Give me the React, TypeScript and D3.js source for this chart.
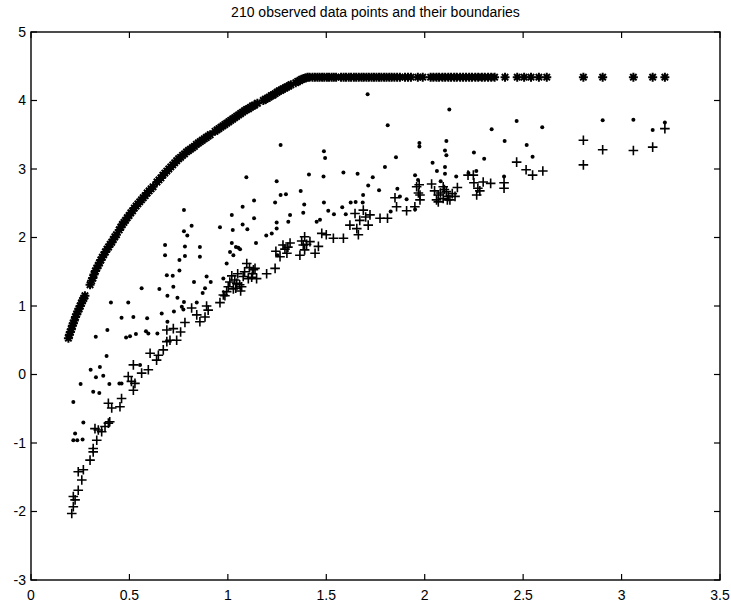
import * as d3 from "d3";

// upper boundary (asterisks)
const upperBound: [number, number][] = [
  [0.19, 0.53], [0.195, 0.58], [0.2, 0.62], [0.205, 0.66], [0.21, 0.71], [0.215, 0.75],
  [0.22, 0.79], [0.226, 0.84], [0.232, 0.88], [0.238, 0.92], [0.244, 0.96], [0.25, 1.0],
  [0.256, 1.04], [0.262, 1.08], [0.268, 1.11], [0.274, 1.15],
  [0.3, 1.31],
  [0.308, 1.37], [0.314, 1.41], [0.32, 1.46], [0.327, 1.51], [0.334, 1.55], [0.341, 1.59],
  [0.348, 1.63], [0.355, 1.67], [0.362, 1.71], [0.37, 1.75], [0.378, 1.79], [0.386, 1.83],
  [0.394, 1.86], [0.402, 1.9], [0.41, 1.93], [0.418, 1.97], [0.426, 2.01], [0.434, 2.04],
  [0.448, 2.11], [0.456, 2.15], [0.464, 2.19], [0.472, 2.22], [0.48, 2.25], [0.489, 2.29],
  [0.498, 2.32], [0.507, 2.36], [0.516, 2.39], [0.525, 2.43], [0.534, 2.46], [0.543, 2.49],
  [0.552, 2.52], [0.561, 2.55], [0.57, 2.58], [0.58, 2.61], [0.59, 2.65], [0.6, 2.68],
  [0.61, 2.71], [0.62, 2.74],
  [0.64, 2.81], [0.65, 2.84], [0.66, 2.87], [0.67, 2.91], [0.68, 2.94], [0.69, 2.97],
  [0.7, 3.0], [0.71, 3.03], [0.72, 3.06], [0.73, 3.09], [0.74, 3.12], [0.75, 3.15],
  [0.76, 3.17], [0.77, 3.2], [0.78, 3.22], [0.79, 3.25], [0.8, 3.27], [0.81, 3.29],
  [0.82, 3.31], [0.83, 3.33], [0.84, 3.36], [0.85, 3.38], [0.86, 3.4], [0.87, 3.42],
  [0.88, 3.44], [0.89, 3.46], [0.9, 3.48], [0.91, 3.5],
  [0.935, 3.55], [0.945, 3.57], [0.955, 3.59], [0.965, 3.61], [0.975, 3.63], [0.985, 3.65],
  [0.995, 3.67], [1.005, 3.69], [1.015, 3.71], [1.025, 3.73], [1.035, 3.75], [1.045, 3.77],
  [1.055, 3.79], [1.065, 3.81], [1.075, 3.83], [1.085, 3.85], [1.095, 3.87], [1.105, 3.88],
  [1.115, 3.9], [1.125, 3.92], [1.135, 3.93], [1.15, 3.96],
  [1.18, 4.0], [1.19, 4.02], [1.2, 4.03], [1.21, 4.05], [1.22, 4.07], [1.23, 4.08],
  [1.24, 4.1], [1.25, 4.12], [1.26, 4.14], [1.27, 4.15], [1.28, 4.17], [1.29, 4.18],
  [1.3, 4.2], [1.31, 4.21], [1.32, 4.23],
  [1.345, 4.26], [1.355, 4.28], [1.365, 4.29], [1.375, 4.31], [1.385, 4.32], [1.395, 4.33],
  [1.405, 4.34], [1.415, 4.34],
  [1.43, 4.34], [1.442, 4.34], [1.455, 4.34], [1.466, 4.34], [1.479, 4.34], [1.49, 4.34],
  [1.503, 4.34], [1.514, 4.34], [1.527, 4.34], [1.538, 4.34], [1.55, 4.34],
  [1.575, 4.34], [1.588, 4.34], [1.6, 4.34], [1.614, 4.34], [1.626, 4.34], [1.64, 4.34],
  [1.652, 4.34], [1.665, 4.34], [1.679, 4.34], [1.69, 4.34], [1.704, 4.34], [1.716, 4.34],
  [1.73, 4.34], [1.742, 4.34], [1.755, 4.34], [1.768, 4.34], [1.78, 4.34], [1.794, 4.34],
  [1.806, 4.34], [1.82, 4.34], [1.832, 4.34], [1.846, 4.34], [1.86, 4.34], [1.874, 4.34],
  [1.9, 4.34], [1.915, 4.34], [1.93, 4.34], [1.965, 4.34], [1.99, 4.34],
  [2.03, 4.34], [2.044, 4.34], [2.06, 4.34], [2.073, 4.34], [2.09, 4.34], [2.104, 4.34],
  [2.12, 4.34], [2.134, 4.34], [2.15, 4.34], [2.163, 4.34], [2.18, 4.34], [2.195, 4.34],
  [2.21, 4.34], [2.226, 4.34], [2.24, 4.34], [2.257, 4.34], [2.272, 4.34], [2.29, 4.34],
  [2.305, 4.34], [2.322, 4.34], [2.338, 4.34], [2.355, 4.34],
  [2.408, 4.34],
  [2.47, 4.34], [2.505, 4.34], [2.54, 4.34], [2.58, 4.34], [2.62, 4.34],
  [2.806, 4.34], [2.904, 4.34], [3.06, 4.34], [3.158, 4.34], [3.22, 4.34],
];

// observed data (dots)
const observed: [number, number][] = [
  [0.215, -0.4], [0.215, -0.96], [0.224, -0.86], [0.235, -0.96], [0.252, -0.14], [0.262, -0.95],
  [0.266, -0.7], [0.303, 0.07], [0.316, -0.25], [0.329, 0.55], [0.33, -0.04], [0.347, -0.27],
  [0.35, 0.11], [0.367, -0.02], [0.384, 0.27], [0.388, 0.65], [0.398, -0.14], [0.406, 1.05],
  [0.449, -0.13], [0.46, -0.13], [0.46, 0.83], [0.483, 0.54], [0.494, 1.05], [0.503, 0.56],
  [0.52, 0.84], [0.533, 0.59], [0.554, 0.14], [0.562, 1.26], [0.584, 0.63], [0.59, 0.82],
  [0.596, 0.6], [0.642, 0.6], [0.652, 1.25], [0.664, 0.89], [0.681, 1.89], [0.681, 1.74],
  [0.69, 1.45], [0.693, 0.77], [0.693, 1.15], [0.72, 1.44], [0.723, 1.28], [0.726, 0.92],
  [0.744, 1.12], [0.754, 1.52], [0.754, 1.67], [0.766, 0.99], [0.774, 0.95], [0.777, 1.06],
  [0.777, 2.4], [0.777, 2.09], [0.782, 1.87], [0.782, 1.73], [0.794, 2.03], [0.816, 2.17],
  [0.828, 1.35], [0.842, 1.05], [0.858, 1.86], [0.858, 1.72], [0.872, 1.19], [0.884, 1.26],
  [0.892, 1.43], [0.913, 1.35], [0.96, 2.15], [0.977, 1.4], [0.994, 1.62], [1.011, 1.79],
  [1.02, 2.33], [1.02, 1.92], [1.025, 2.11], [1.028, 1.74], [1.041, 1.86], [1.053, 1.85],
  [1.062, 1.83], [1.075, 2.45], [1.075, 2.19], [1.094, 2.88], [1.099, 2.12], [1.133, 2.54],
  [1.133, 2.28], [1.143, 1.92], [1.195, 2.03], [1.223, 2.06], [1.24, 2.51], [1.248, 2.82],
  [1.248, 2.22], [1.248, 2.13], [1.252, 1.74], [1.268, 3.35], [1.268, 2.62], [1.295, 2.63],
  [1.307, 2.23], [1.316, 2.33], [1.37, 2.68], [1.383, 2.36], [1.388, 2.48], [1.412, 2.92],
  [1.451, 2.23], [1.468, 2.26], [1.486, 2.89], [1.488, 3.26], [1.488, 2.51], [1.494, 3.16],
  [1.51, 2.39], [1.539, 2.34], [1.581, 2.44], [1.587, 2.95], [1.599, 2.34], [1.624, 2.51],
  [1.649, 2.52], [1.659, 2.93], [1.685, 2.51], [1.687, 2.62], [1.71, 4.09], [1.713, 2.76],
  [1.736, 2.88], [1.768, 2.69], [1.798, 3.03], [1.812, 3.64], [1.827, 2.38], [1.854, 3.17],
  [1.861, 2.71], [1.874, 2.6], [1.908, 2.56], [1.951, 2.91], [1.951, 2.41], [1.966, 2.84],
  [1.973, 3.38], [1.973, 3.33], [2.04, 3.09], [2.062, 2.97], [2.081, 2.82], [2.103, 3.27],
  [2.103, 3.03], [2.103, 2.93], [2.11, 3.41], [2.11, 3.2], [2.125, 3.87], [2.16, 2.89],
  [2.222, 2.94], [2.25, 3.24], [2.262, 2.97], [2.302, 3.15], [2.34, 3.58], [2.403, 2.89],
  [2.406, 3.41], [2.467, 3.7], [2.518, 3.35], [2.548, 3.18], [2.597, 3.61], [2.904, 3.71],
  [3.06, 3.72], [3.158, 3.57], [3.22, 3.68],
];

// lower boundary (plus signs)
const lowerBound: [number, number][] = [
  [0.207, -2.03], [0.215, -1.93], [0.215, -1.78], [0.224, -1.83], [0.24, -1.69], [0.24, -1.42],
  [0.258, -1.54], [0.266, -1.39], [0.3, -1.25], [0.316, -1.13], [0.316, -1.08], [0.325, -0.79],
  [0.334, -0.96], [0.342, -0.81], [0.359, -0.835], [0.376, -0.76], [0.393, -0.71], [0.393, -0.42],
  [0.4, -0.69], [0.41, -0.49], [0.452, -0.47], [0.46, -0.35], [0.494, -0.03], [0.51, -0.1],
  [0.52, -0.23], [0.528, -0.13], [0.52, 0.14], [0.562, 0.02], [0.596, 0.07], [0.605, 0.31],
  [0.638, 0.21], [0.647, 0.28], [0.672, 0.36], [0.69, 0.48], [0.69, 0.65], [0.706, 0.5],
  [0.723, 0.67], [0.74, 0.5], [0.76, 0.62], [0.782, 0.76], [0.816, 0.97], [0.842, 0.87],
  [0.858, 0.77], [0.884, 0.84], [0.892, 1.0], [0.9, 0.94], [0.96, 1.05], [0.977, 1.16],
  [0.985, 1.15], [0.994, 1.21], [1.002, 1.28], [1.01, 1.35], [1.02, 1.44], [1.028, 1.25],
  [1.035, 1.38], [1.04, 1.26], [1.045, 1.33], [1.05, 1.47], [1.06, 1.31], [1.065, 1.22],
  [1.07, 1.28], [1.078, 1.43], [1.085, 1.5], [1.096, 1.62], [1.104, 1.4], [1.11, 1.56],
  [1.121, 1.42], [1.125, 1.47], [1.13, 1.53], [1.138, 1.55], [1.146, 1.4], [1.197, 1.47],
  [1.24, 1.55], [1.244, 1.8], [1.265, 1.72], [1.28, 1.89], [1.29, 1.83], [1.3, 1.77],
  [1.305, 1.86], [1.316, 1.92], [1.366, 1.74], [1.375, 1.95], [1.383, 1.89], [1.39, 1.82],
  [1.39, 2.01], [1.4, 1.9], [1.417, 1.94], [1.443, 1.77], [1.46, 1.87], [1.477, 2.06],
  [1.5, 2.04], [1.536, 1.99], [1.587, 1.99], [1.62, 2.18], [1.646, 2.35], [1.655, 2.13],
  [1.663, 2.04], [1.67, 2.25], [1.688, 2.4], [1.7, 2.3], [1.713, 2.18], [1.722, 2.33],
  [1.773, 2.28], [1.811, 2.28], [1.849, 2.58], [1.857, 2.45], [1.908, 2.39], [1.95, 2.45],
  [1.959, 2.74], [1.968, 2.65], [1.972, 2.77], [1.976, 2.55], [1.976, 2.62], [2.035, 2.78],
  [2.05, 2.68], [2.06, 2.55], [2.069, 2.62], [2.069, 2.52], [2.08, 2.65], [2.094, 2.74],
  [2.094, 2.57], [2.1, 2.7], [2.11, 2.67], [2.115, 2.55], [2.12, 2.6], [2.128, 2.55],
  [2.14, 2.64], [2.154, 2.6], [2.166, 2.73], [2.22, 2.91], [2.247, 2.91], [2.25, 2.8],
  [2.264, 2.62], [2.27, 2.72], [2.28, 2.68], [2.297, 2.81], [2.335, 2.79], [2.403, 2.8],
  [2.403, 2.72], [2.467, 3.1], [2.515, 2.99], [2.548, 2.91], [2.6, 2.97], [2.806, 3.42],
  [2.806, 3.06], [2.904, 3.28], [3.06, 3.27], [3.158, 3.32], [3.22, 3.59],
];

const title = "210 observed data points and their boundaries";
const xTicks = [0, 0.5, 1, 1.5, 2, 2.5, 3, 3.5];
const yTicks = [-3, -2, -1, 0, 1, 2, 3, 4, 5];

const W = 731;
const H = 602;
const m = { top: 32, right: 11, bottom: 22, left: 31 };
const FONT = "'Liberation Sans', Arial, Helvetica, sans-serif";

export default function App() {
  const x = d3.scaleLinear().domain([0, 3.5]).range([m.left, W - m.right]);
  const y = d3.scaleLinear().domain([-3, 5]).range([H - m.bottom, m.top]);
  const tk = 6;

  const plus = "M-4.8,0H4.8M0,-4.8V4.8";
  const star = "M-4.5,0H4.5M0,-4.5V4.5M-3.2,-3.2L3.2,3.2M-3.2,3.2L3.2,-3.2";

  return (
    <svg
      width={W}
      height={H}
      style={{ position: "absolute", left: 0, top: 0, background: "#fff" }}
      fontFamily={FONT}
    >
      <rect width={W} height={H} fill="#fff" />
      <text x={(x(0) + x(3.5)) / 2} y={17} textAnchor="middle" fontSize={14}>
        {title}
      </text>

      {/* markers */}
      <g fill="#000">
        {observed.map((d, i) => (
          <circle key={i} cx={x(d[0])} cy={y(d[1])} r={2} />
        ))}
      </g>
      <g stroke="#000" strokeWidth={1.6} fill="none">
        {lowerBound.map((d, i) => (
          <path key={i} d={plus} transform={`translate(${x(d[0])},${y(d[1])})`} />
        ))}
      </g>
      <g stroke="#000" strokeWidth={2} fill="none">
        {upperBound.map((d, i) => (
          <path key={i} d={star} transform={`translate(${x(d[0])},${y(d[1])})`} />
        ))}
      </g>

      {/* box + ticks */}
      <rect
        x={x(0)}
        y={y(5)}
        width={x(3.5) - x(0)}
        height={y(-3) - y(5)}
        fill="none"
        stroke="#000"
        strokeWidth={1.4}
      />
      <g stroke="#000" strokeWidth={1.2}>
        {xTicks.map((t) => (
          <g key={t}>
            <line x1={x(t)} x2={x(t)} y1={y(-3)} y2={y(-3) - tk} />
            <line x1={x(t)} x2={x(t)} y1={y(5)} y2={y(5) + tk} />
          </g>
        ))}
        {yTicks.map((t) => (
          <g key={t}>
            <line x1={x(0)} x2={x(0) + tk} y1={y(t)} y2={y(t)} />
            <line x1={x(3.5)} x2={x(3.5) - tk} y1={y(t)} y2={y(t)} />
          </g>
        ))}
      </g>
      <g fontSize={14} fill="#000">
        {xTicks.map((t) => (
          <text key={t} x={x(t)} y={600} textAnchor="middle">
            {String(t)}
          </text>
        ))}
        {yTicks.map((t) => (
          <text key={t} x={26} y={y(t)} dy="0.35em" textAnchor="end">
            {t < 0 ? `-${Math.abs(t)}` : String(t)}
          </text>
        ))}
      </g>
    </svg>
  );
}
